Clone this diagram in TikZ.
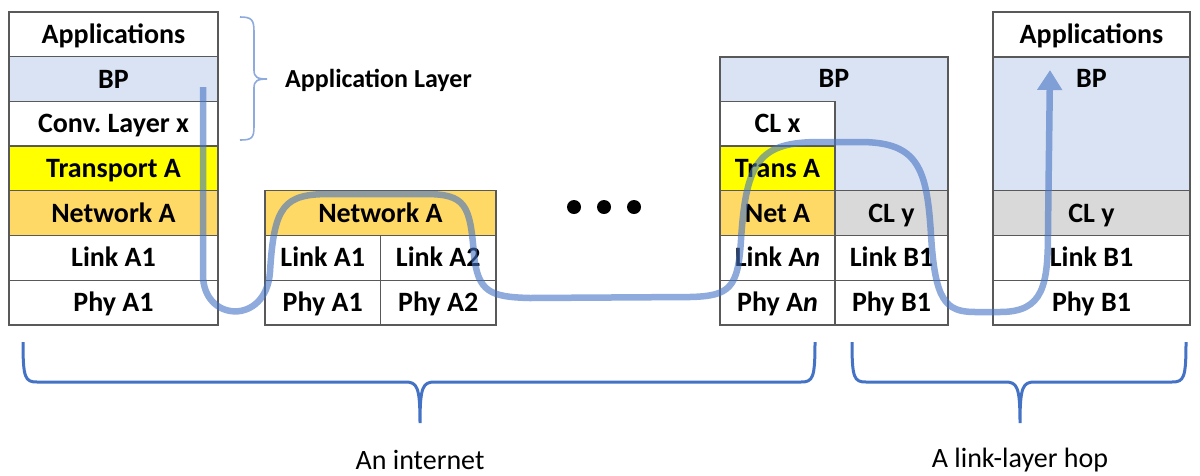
\documentclass[tikz,border=0pt]{standalone}
\usepackage{fontspec}
\setmainfont{Carlito}
\usetikzlibrary{arrows.meta,calc}
\definecolor{bpblue}{HTML}{DAE3F3}
\definecolor{netor}{HTML}{FFD966}
\definecolor{transy}{HTML}{FFFF00}
\definecolor{clgrey}{HTML}{D9D9D9}
\definecolor{flowblue}{HTML}{4472C4}
\definecolor{lightbr}{HTML}{8FAADC}
\frenchspacing
\begin{document}
\begin{tikzpicture}[x=1pt,y=-1pt,
  cell/.style={draw=black!65, line width=1.3pt, inner sep=0pt, text height=18pt, text depth=0pt, font=\bfseries\fontsize{28}{32}\selectfont},
  lbl/.style={inner sep=0pt, text height=18pt, text depth=0pt, font=\bfseries\fontsize{28}{32}\selectfont},
  dotmark/.style={circle, fill=black, inner sep=0pt, minimum size=14pt},
  bigbrace/.style={draw=flowblue, line width=3pt},
  smallbrace/.style={draw=lightbr, line width=1.6pt},
  note/.style={inner sep=0pt, font=\fontsize{28}{32}\selectfont},
  flow/.style={draw=flowblue, line width=6.5pt}]
\useasboundingbox (0,0) rectangle (1200,475);

% ---- left stack
\begin{scope}[every node/.append style={minimum width=209pt, minimum height=44.7pt}]
\node[cell, fill=white]  (lApp)  at (113.5,34.35)  {Applications};
\node[cell, fill=bpblue] (lBP)   at (113.5,79.05)  {BP};
\node[cell, fill=white]  (lConv) at (113.5,123.75) {Conv. Layer x};
\node[cell, fill=transy] (lTrans) at (113.5,168.45) {Transport A};
\node[cell, fill=netor]  (lNet)  at (113.5,213.15) {Network A};
\node[cell, fill=white]  (lLink) at (113.5,257.85) {Link A1};
\node[cell, fill=white]  (lPhy)  at (113.5,302.55) {Phy A1};
\end{scope}

% ---- middle stack
\node[cell, fill=netor, minimum width=231pt, minimum height=44.7pt] (mNet) at (380.5,213.15) {Network A};
\begin{scope}[every node/.append style={minimum width=115.5pt, minimum height=44.7pt}]
\node[cell, fill=white] (mLink1) at (322.75,257.85) {Link A1};
\node[cell, fill=white] (mLink2) at (438.25,257.85) {Link A2};
\node[cell, fill=white] (mPhy1)  at (322.75,302.55) {Phy A1};
\node[cell, fill=white] (mPhy2)  at (438.25,302.55) {Phy A2};
\end{scope}

% ---- dots
\node[dotmark] (d1) at (574,207) {};
\node[dotmark] (d2) at (604,207) {};
\node[dotmark] (d3) at (634,207) {};

% ---- right-middle stack
\node[cell, fill=bpblue, minimum width=228pt, minimum height=134.1pt] (rBP) at (834,124) {};
\node[lbl] (rBPt) at ($(rBP.north)+(0,22.35)$) {BP};
\begin{scope}[every node/.append style={minimum width=115pt, minimum height=44.7pt}]
\node[cell, fill=white]  (rCLx)   at (777.5,123.75) {CL x};
\node[cell, fill=transy] (rTrans) at (777.5,168.45) {Trans A};
\node[cell, fill=netor]  (rNet)   at (777.5,213.15) {Net A};
\node[cell, fill=white]  (rLinkA) at (777.5,257.85) {Link A\textit{n}};
\node[cell, fill=white]  (rPhyA)  at (777.5,302.55) {Phy A\textit{n}};
\end{scope}
\begin{scope}[every node/.append style={minimum width=113pt, minimum height=44.7pt}]
\node[cell, fill=clgrey] (rCLy)   at (891.5,213.15) {CL y};
\node[cell, fill=white]  (rLinkB) at (891.5,257.85) {Link B1};
\node[cell, fill=white]  (rPhyB)  at (891.5,302.55) {Phy B1};
\end{scope}

% ---- right stack
\begin{scope}[every node/.append style={minimum width=197pt}]
\node[cell, fill=white,  minimum height=44.7pt] (eApp) at (1091.5,34.35) {Applications};
\node[cell, fill=bpblue, minimum height=134.1pt] (eBP) at (1091.5,124) {};
\node[cell, fill=clgrey, minimum height=44.7pt] (eCLy) at (1091.5,213.15) {CL y};
\node[cell, fill=white,  minimum height=44.7pt] (eLink) at (1091.5,257.85) {Link B1};
\node[cell, fill=white,  minimum height=44.7pt] (ePhy) at (1091.5,302.55) {Phy B1};
\end{scope}
\node[lbl] (eBPt) at ($(eBP.north)+(0,22.35)$) {BP};

% ---- application layer brace
\coordinate (abTop) at (240,17);
\coordinate (abTip) at (267,79);
\coordinate (abBot) at (240,140);
\draw[smallbrace] (abTop) .. controls (252,17) and (254,20) .. (254,32) -- (254,70)
  .. controls (254,77) and (257,79) .. (abTip)
  .. controls (257,79) and (254,81) .. (254,88) -- (254,126)
  .. controls (254,138) and (252,140) .. (abBot);
\node[inner sep=0pt, text height=17pt, text depth=0pt, font=\bfseries\fontsize{26}{30}\selectfont, anchor=west] (alay) at (285,79) {Application Layer};

% ---- bottom braces
\coordinate (b1L) at (23,342);
\coordinate (b1T) at (420,423);
\coordinate (b1R) at (815,342);
\draw[bigbrace] (b1L) .. controls (23,378) and (25,382) .. (37,382) -- (405,382)
  .. controls (417,382) and (420,386) .. (b1T)
  .. controls (420,386) and (423,382) .. (435,382) -- (801,382)
  .. controls (813,382) and (815,378) .. (b1R);
\coordinate (b2L) at (852,342);
\coordinate (b2T) at (1020,423);
\coordinate (b2R) at (1186,342);
\draw[bigbrace] (b2L) .. controls (852,378) and (854,382) .. (866,382) -- (1005,382)
  .. controls (1017,382) and (1020,386) .. (b2T)
  .. controls (1020,386) and (1023,382) .. (1035,382) -- (1172,382)
  .. controls (1184,382) and (1186,378) .. (b2R);
\node[note] (lab1) at (420,460) {An internet};
\node[note] (lab2) at (1020,460) {A link-layer hop};

% ---- data flow curve
\coordinate (fStart) at (203,87);
\coordinate (fEnd) at (1050,70);
\begin{scope}[transparency group, opacity=0.6]
\draw[flow, -{Triangle[width=24pt,length=20pt]}]
  (fStart) -- (203,275)
  .. controls (203,322) and (266,326) .. (270,272)
  .. controls (274,205) and (284,194) .. (330,194) -- (425,194)
  .. controls (466,194) and (470,205) .. (474,255)
  .. controls (478,292) and (490,297) .. (530,298) -- (690,297)
  .. controls (730,296) and (738,288) .. (741,240)
  .. controls (746,160) and (760,142) .. (820,142) -- (860,142)
  .. controls (918,142) and (927,168) .. (931,235)
  .. controls (935,300) and (945,312) .. (975,312) -- (1000,312)
  .. controls (1044,312) and (1048,285) .. (1048,230) -- (fEnd);
\end{scope}
\end{tikzpicture}
\end{document}
